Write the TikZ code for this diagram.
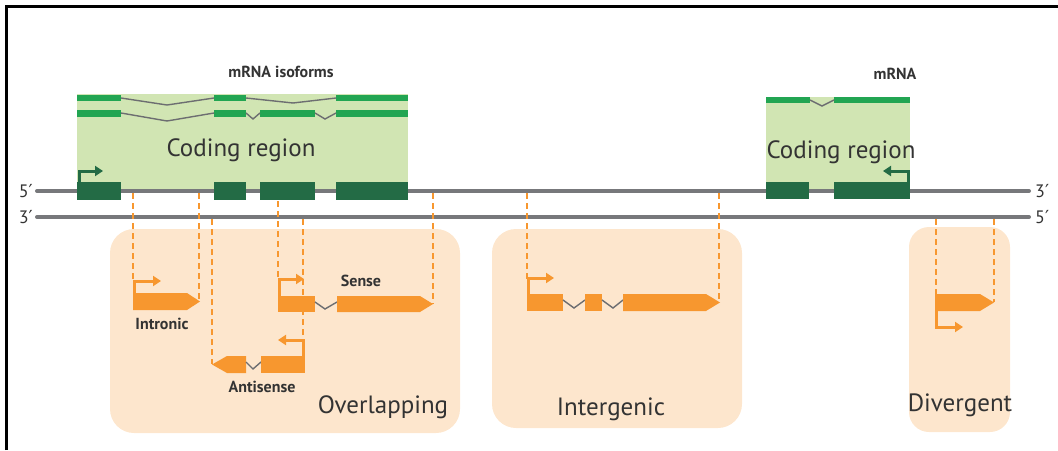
\documentclass[tikz,border=0pt]{standalone}
\usepackage{fontspec}
\setmainfont{PT Sans}
\newfontfamily\primefont{DejaVu Sans}
\usepackage{tikz}
\usetikzlibrary{arrows.meta,positioning}
\definecolor{dnagray}{HTML}{77787B}
\definecolor{introngray}{HTML}{6D6E71}
\definecolor{codegreen}{HTML}{D1E5B3}
\definecolor{darkgreen}{HTML}{236B45}
\definecolor{mrnagreen}{HTML}{22A552}
\definecolor{peach}{HTML}{FDE6CD}
\definecolor{geneorange}{HTML}{F7972F}
\definecolor{textgray}{HTML}{333333}
\newcommand{\pr}{{\primefont\char"2032}}
\tikzset{
  frame/.style={draw=black, line width=2.5pt},
  strand/.style={draw=dnagray, line width=4pt, line cap=round},
  coding/.style={fill=codegreen},
  cexon/.style={fill=darkgreen},
  mexon/.style={fill=mrnagreen},
  intron/.style={draw=introngray, line width=1.4pt},
  region/.style={fill=peach, rounded corners=24pt},
  gene/.style={fill=geneorange},
  link/.style={draw=geneorange, dash pattern=on 6pt off 4pt, line width=1.5pt},
  prom/.style={draw=geneorange, line width=3pt, -{Triangle[length=8pt,width=10pt]}},
  gprom/.style={draw=darkgreen, line width=3pt, -{Triangle[length=8pt,width=10pt]}},
  big/.style={font=\fontsize{25}{28}\selectfont, text=textgray, inner sep=0pt},
  tag/.style={font=\bfseries\fontsize{16}{18}\selectfont, text=textgray, inner sep=0pt},
  endlabel/.style={font=\fontsize{18}{20}\selectfont, text=textgray, inner sep=0pt}
}
\begin{document}
\begin{tikzpicture}[x=1pt, y=-1pt]
    \useasboundingbox (0,0) rectangle (1058,450);
    \draw[frame] (6.5,450) -- (6.5,6.5) -- (1058,6.5);

    % Lncrna classes
    \fill[region] (110,229) rectangle (460,433);
    \fill[region] (492,229) rectangle (742,428);
    \fill[region, rounded corners=20pt] (909,227) rectangle (1010,432);

    % Coding regions
    \fill[coding] (77,94) rectangle (408,191);
    \fill[coding] (766,97) rectangle (910,191);

    % mRNA isoforms
    \fill[mexon] (77,95) rectangle (121,101);
    \fill[mexon] (214,95) rectangle (246,101);
    \fill[mexon] (336,95) rectangle (408,101);
    \draw[intron] (121,98) -- (167,105) -- (214,98);
    \draw[intron] (246,98) -- (293,103) -- (336,98);
    \fill[mexon] (77,110) rectangle (121,117);
    \fill[mexon] (214,110) rectangle (246,117);
    \fill[mexon] (260,110) rectangle (315,117);
    \fill[mexon] (336,110) rectangle (408,117);
    \draw[intron] (121,113) -- (167,121) -- (214,113);
    \draw[intron] (246,113) -- (253,119) -- (260,113);
    \draw[intron] (315,113) -- (325,119) -- (336,113);
    \fill[mexon] (766,97) rectangle (810,103);
    \fill[mexon] (834,97) rectangle (910,103);
    \draw[intron] (810,100) -- (822,106) -- (834,100);

    % Strands
    \node[endlabel, anchor=east] (top5) at (33,191) {5\pr};
    \node[endlabel, anchor=east] (bot3) at (33,217) {3\pr};
    \node[endlabel, anchor=west] (top3) at (1035,191) {3\pr};
    \node[endlabel, anchor=west] (bot5) at (1035,217) {5\pr};
    \draw[strand] (top5.east) ++(4,0) coordinate (ts) -- (1029,191) coordinate (te);
    \draw[strand] (bot3.east) ++(4,0) coordinate (bs) -- (1029,217) coordinate (be);

    % Coding exons
    \fill[cexon] (77,182) rectangle (121,200);
    \fill[cexon] (214,182) rectangle (246,200);
    \fill[cexon] (260,182) rectangle (315,200);
    \fill[cexon] (336,182) rectangle (408,200);
    \fill[cexon] (766,182) rectangle (809,199);
    \fill[cexon] (834,182) rectangle (910,199);
    \draw[gprom] (79.5,183) -- (79.5,171) -- (103,171);
    \draw[gprom] (908,183) -- (908,171) -- (883,171);

    % Texts
    \node[tag] (iso) at (281,72) {mRNA isoforms};
    \node[tag] (mrna) at (895,74) {mRNA};
    \node[big] (code1) at (241,150) {Coding region};
    \node[big] (code2) at (841,152) {Coding region};

    % Dashed links
    \coordinate (a1) at (133,193); \coordinate (a2) at (199,193);
    \coordinate (a3) at (278,201); \coordinate (a4) at (433,193);
    \coordinate (a5) at (212,219); \coordinate (a6) at (303,219);
    \coordinate (a7) at (527,193); \coordinate (a8) at (719,193);
    \coordinate (a9) at (936,219); \coordinate (a10) at (994,219);
    \coordinate (b1) at (133,282); \coordinate (b2) at (199,301);
    \coordinate (b3) at (278,279); \coordinate (b4) at (433,304);
    \coordinate (b5) at (212,364); \coordinate (b6) at (303,341);
    \coordinate (b7) at (527,279); \coordinate (b8) at (719,302);
    \coordinate (b9) at (936,294); \coordinate (b10) at (994,302);
    \foreach \i in {1,...,10}
      \draw[link] (a\i) -- (b\i);

    % Intronic
    \fill[gene] (133,293) -- (187,293) -- (200,301.5) -- (187,310) -- (133,310) -- cycle;
    \draw[prom] (134.5,294) -- (134.5,281) -- (161,281);
    \node[tag] (intronic) at (162,324) {Intronic};

    % Sense
    \fill[gene] (278,296) rectangle (315,312);
    \draw[intron] (315,302) -- (325,309) -- (337,302);
    \fill[gene] (337,296) -- (420,296) -- (433,304) -- (420,312) -- (337,312) -- cycle;
    \draw[prom] (279.5,297) -- (279.5,279) -- (304,279);
    \node[tag] (sense) at (361,281) {Sense};

    % Antisense
    \fill[gene] (212,364.5) -- (227,356) -- (246,356) -- (246,373) -- (227,373) -- cycle;
    \draw[intron] (246,362) -- (253,369) -- (261,362);
    \fill[gene] (261,356) rectangle (305,373);
    \draw[prom] (303.5,357) -- (303.5,340) -- (278,340);
    \node[tag] (antisense) at (262,387) {Antisense};
    \node[big] (overlap) at (383,407) {Overlapping};

    % Intergenic
    \fill[gene] (527,294) rectangle (563,311);
    \draw[intron] (563,300) -- (574,308) -- (585,300);
    \fill[gene] (585,294) rectangle (602,311);
    \draw[intron] (602,300) -- (613,308) -- (623,300);
    \fill[gene] (623,294) -- (706,294) -- (720,302.5) -- (706,311) -- (623,311) -- cycle;
    \draw[prom] (528.5,295) -- (528.5,278) -- (554,278);
    \node[big] (intergenic) at (611,409) {Intergenic};

    % Divergent
    \fill[gene] (935,294) -- (980,294) -- (994,302.5) -- (980,311) -- (935,311) -- cycle;
    \draw[prom] (936.5,310) -- (936.5,327) -- (963,327);
    \node[big] (divergent) at (960,405) {Divergent};
  \end{tikzpicture}
\end{document}
